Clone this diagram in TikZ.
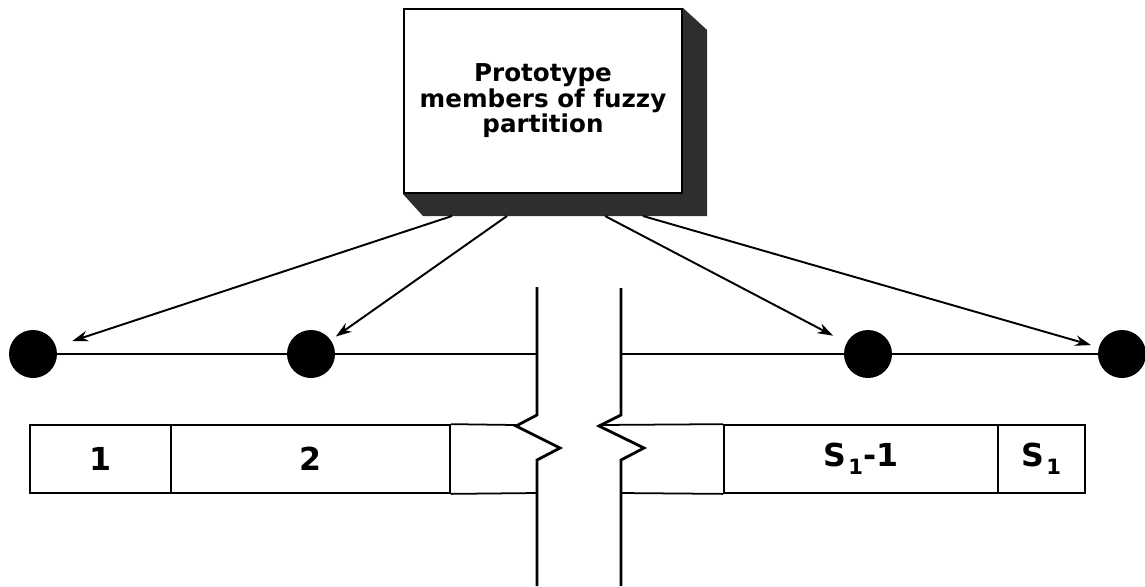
\documentclass[tikz,border=0pt]{standalone}
\usepackage{fontspec}
\setmainfont{DejaVu Sans}
\usetikzlibrary{positioning,calc,arrows.meta}

\begin{document}
\begin{tikzpicture}[x=0.02cm, y=-0.02cm,
  protobox/.style={draw, line width=1.2pt, fill=white, minimum width=5.56cm, minimum height=3.68cm, align=center, font=\fontsize{14}{14.5}\selectfont\bfseries},
  dot/.style={circle, fill=black, minimum size=0.96cm, inner sep=0pt},
  cell/.style={draw, line width=1pt, minimum height=1.36cm, inner sep=0pt, font=\fontsize{18}{20}\selectfont\bfseries},
  arrow/.style={-{Stealth[length=9pt,width=6pt]}, line width=1.1pt},
  brk/.style={line width=1.6pt, line join=miter}]
\useasboundingbox (0,0) rectangle (1145,586);
% prototype box with its shadow
\node[protobox] (proto) at (543,101) {Prototype\\members of fuzzy\\partition};
\fill[black!82] (proto.north east) -- ++(24,22) -- ($(proto.south east)+(24,22)$) -- ($(proto.south west)+(20,22)$) -- (proto.south west) -- (proto.south east) -- cycle;
% fuzzy prototypes
\node[dot] (d1) at (33,354) {};
\node[dot] (d2) at (311,354) {};
\node[dot] (d3) at (868,354) {};
\node[dot] (d4) at (1122,354) {};
\coordinate (bl) at (537,354);
\coordinate (br) at (621,354);
\draw[line width=1pt] (d1) -- (d2);
\draw[line width=1pt] (d2) -- (bl);
\draw[line width=1pt] (br) -- (d3);
\draw[line width=1pt] (d3) -- (d4);
% arrows from the box
\coordinate (a1) at (452,216);
\coordinate (a2) at (507,216);
\coordinate (a3) at (605,216);
\coordinate (a4) at (643,216);
\draw[arrow, shorten >=0.34cm] (a1) -- (d1);
\draw[arrow, shorten >=0.12cm] (a2) -- (d2);
\draw[arrow, shorten >=0.30cm] (a3) -- (d3);
\draw[arrow, shorten >=0.16cm] (a4) -- (d4);
% partition cells
\node[cell, minimum width=2.82cm] (c1) at (100.5,459) {1};
\node[cell, minimum width=5.58cm] (c2) at (310.5,459) {2};
\node[cell, minimum width=5.48cm] (c3) at (861,459) {S\kern1pt\raisebox{-0.45ex}{\fontsize{12}{12}\selectfont 1}-1};
\node[cell, minimum width=1.74cm] (c4) at (1041.5,459) {S\kern1pt\raisebox{-0.45ex}{\fontsize{12}{12}\selectfont 1}};
\draw[line width=1pt] (c2.north east) -- (516,425);
\draw[line width=1pt] (c2.south east) -- (537,493);
\draw[line width=1pt] (599,425) -- (c3.north west);
\draw[line width=1pt] (621,493) -- (c3.south west);
% break lines
\draw[brk] (537,287) -- (537,415) -- (516,426) -- (560,448) -- (537,460) -- (537,586);
\draw[brk] (621,288) -- (621,415) -- (599,426) -- (644,448) -- (621,460) -- (621,586);
\end{tikzpicture}
\end{document}
